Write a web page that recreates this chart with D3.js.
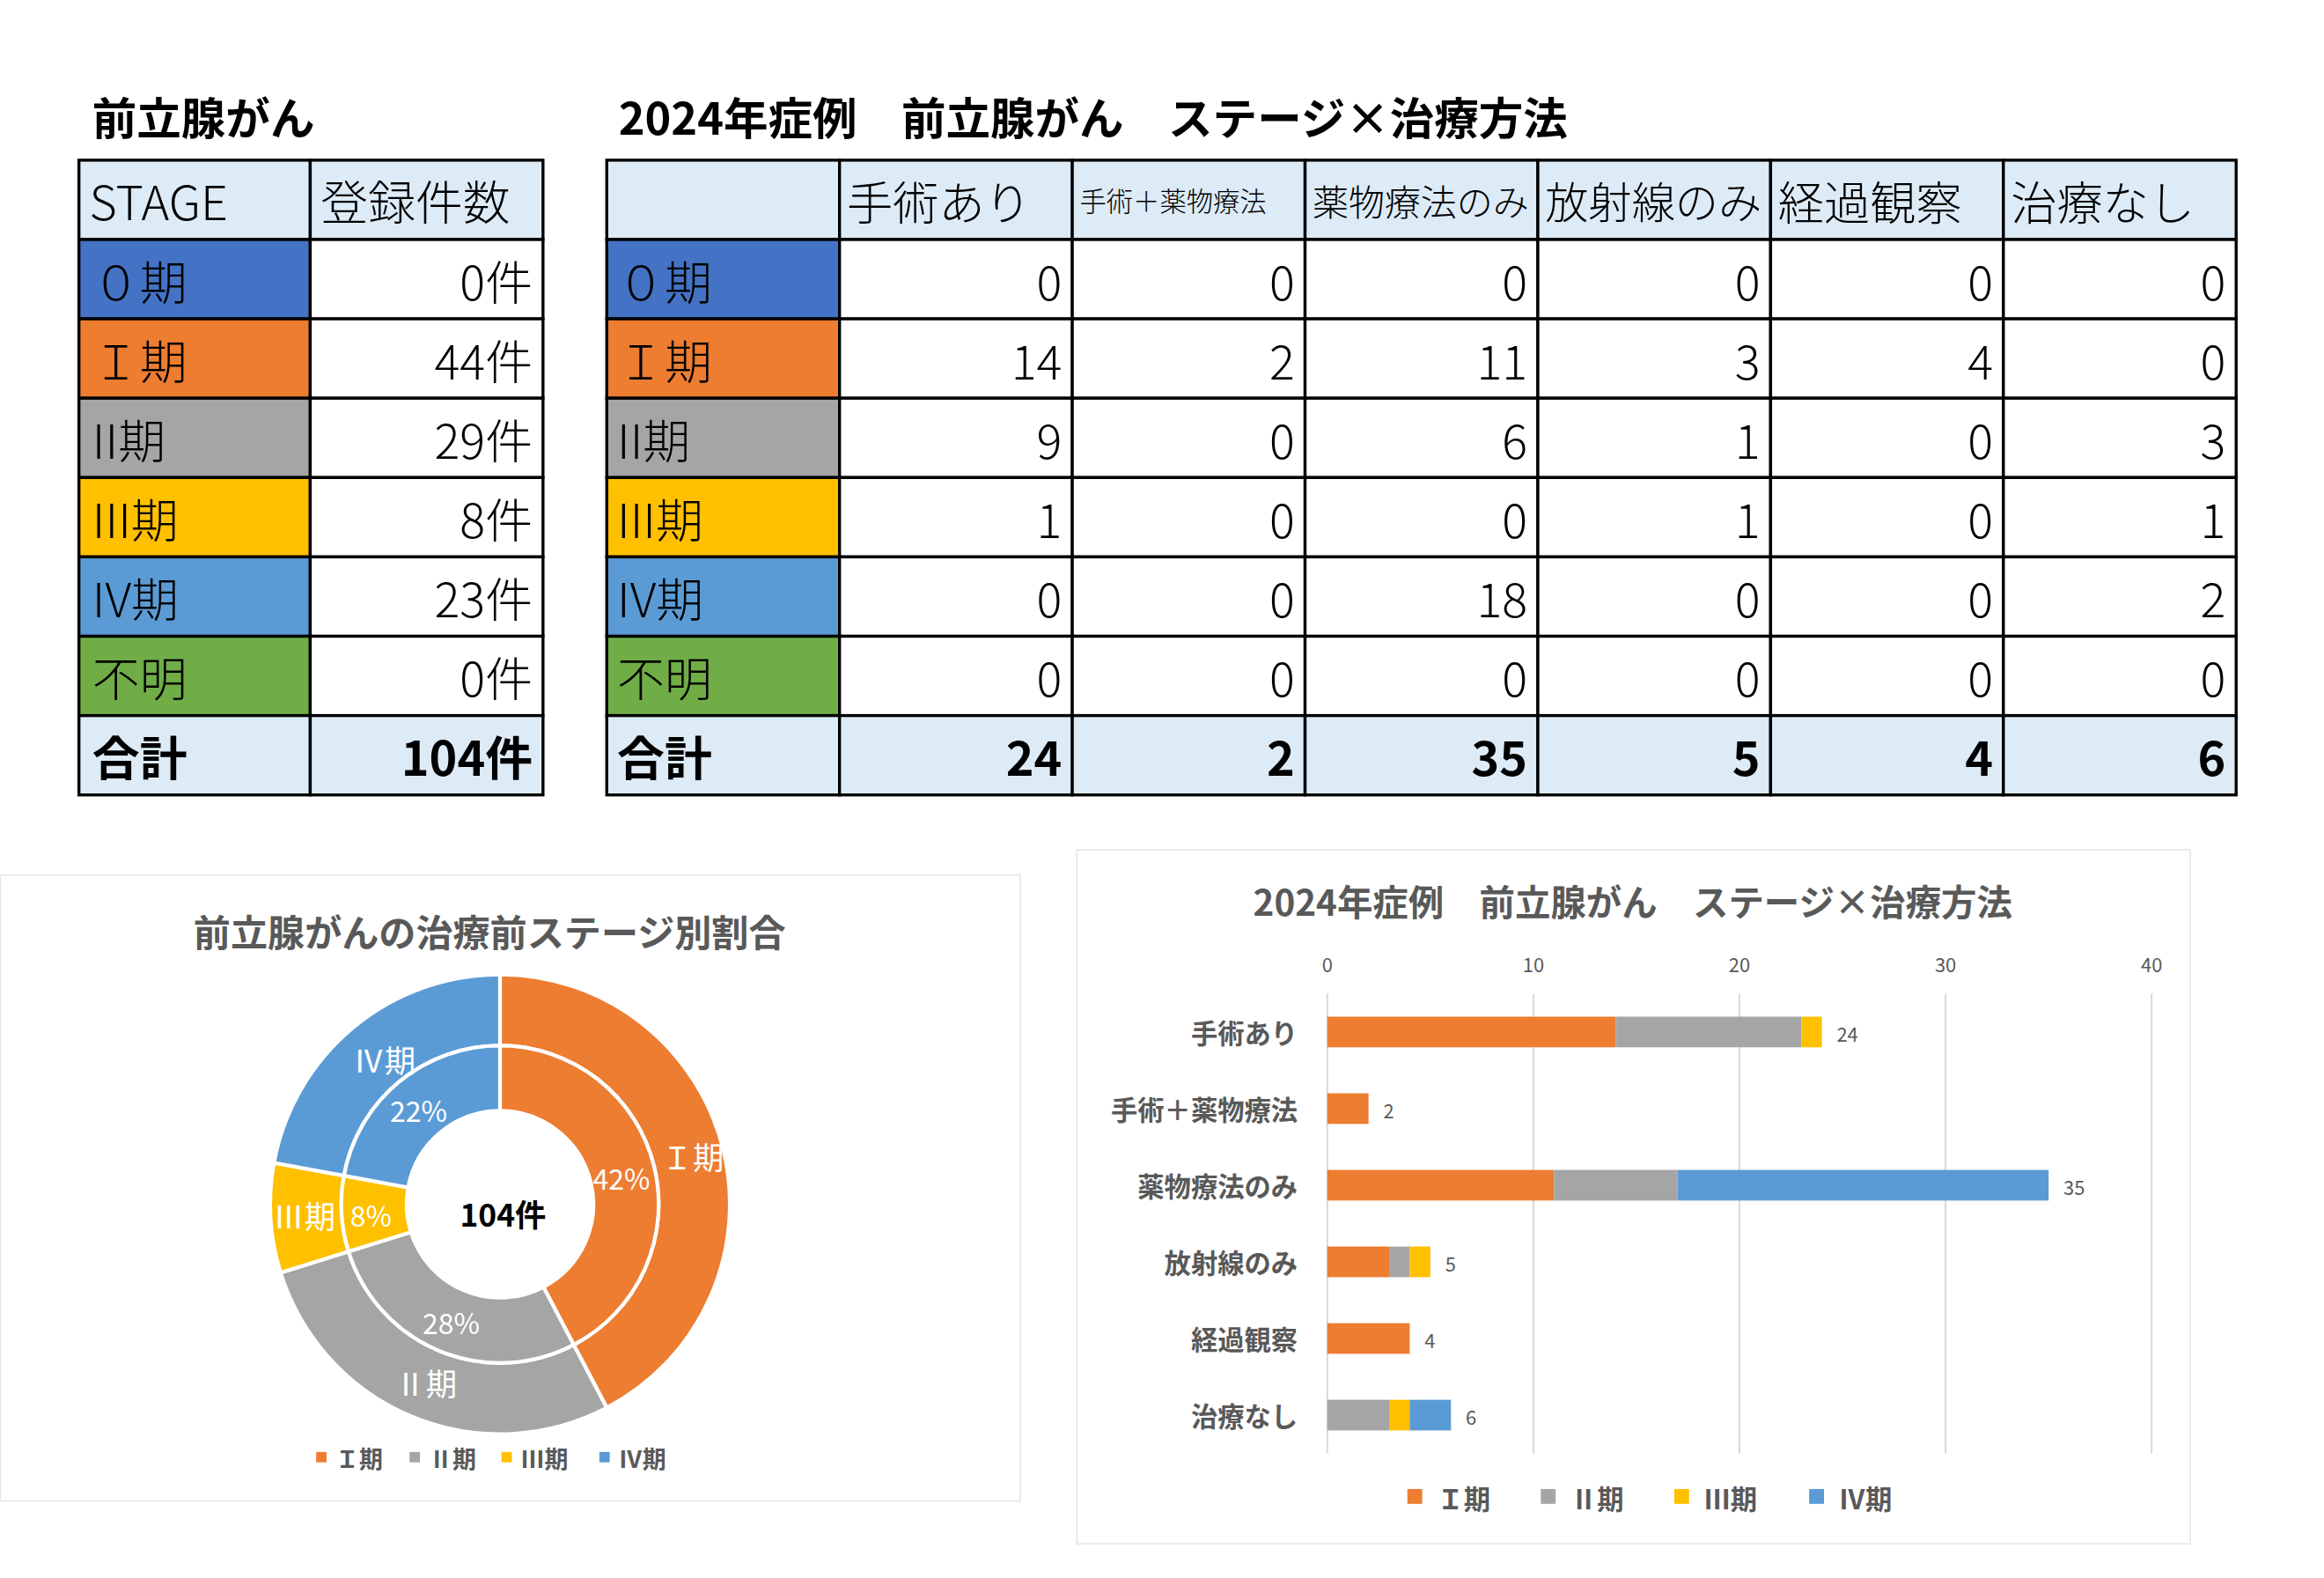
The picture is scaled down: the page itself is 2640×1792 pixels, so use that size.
<!DOCTYPE html>
<html><head><meta charset="utf-8">
<script src="https://cdn.jsdelivr.net/npm/d3@7"></script>
<style>body{margin:0;background:#fff}svg{display:block}text{font-family:"Noto Sans CJK JP","Noto Sans",sans-serif}</style>
</head><body><svg id="c" width="2640" height="1792" viewBox="0 0 1567 1064"></svg>
<script>
const stages=["０期","Ⅰ期","Ⅱ期","Ⅲ期","Ⅳ期","不明"];
const stageLabels=["０期","Ｉ期","II期","III期","IV期","不明"];
const stageColors=["#4472C4","#ED7D31","#A5A5A5","#FFC000","#5B9BD5","#70AD47"];
const counts=[0,44,29,8,23,0];
const treatments=["手術あり","手術＋薬物療法","薬物療法のみ","放射線のみ","経過観察","治療なし"];
// matrix[stage][treatment]
const matrix=[[0,0,0,0,0,0],[14,2,11,3,4,0],[9,0,6,1,0,3],[1,0,0,1,0,1],[0,0,18,0,0,2],[0,0,0,0,0,0]];
const totals=[24,2,35,5,4,6];
const chartStages=["Ⅰ期","Ⅱ期","Ⅲ期","Ⅳ期"];
const chartColors=["#ED7D31","#A5A5A5","#FFC000","#5B9BD5"];
const donutCounts=[44,29,8,23];
const donutOuterLabels=["Ｉ期","Ⅱ期","Ⅲ期","Ⅳ期"];
const xTicks=[0,10,20,30,40];

const svg=d3.select("#c");
const rowY=d3.range(9).map(i=>108+i*53.5);
const hdr="#DDEBF7";
svg.append("text").attr("x",62).attr("y",91).attr("font-size",30).attr("font-weight",700).text("前立腺がん");
svg.append("text").attr("x",417).attr("y",91).attr("font-size",30).attr("font-weight",700).text("2024年症例　前立腺がん　ステージ×治療方法");

function cell(x,y,w,h,fill){svg.append("rect").attr("x",x).attr("y",y).attr("width",w).attr("height",h).attr("fill",fill).attr("stroke","#000").attr("stroke-width",2);}
function txt(x,y,s,opt={}){return svg.append("text").attr("x",x).attr("y",y).attr("font-size",opt.fs||32).attr("font-weight",opt.bold?700:300).attr("text-anchor",opt.anchor||"start").attr("dominant-baseline","central").text(s);}
const lx=[53,209,366];
const rh=53.5;
cell(lx[0],rowY[0],lx[1]-lx[0],rh,hdr);cell(lx[1],rowY[0],lx[2]-lx[1],rh,hdr);
txt(60,rowY[0]+rh/2,"STAGE");txt(216,rowY[0]+rh/2,"登録件数");
stages.forEach((s,i)=>{const y=rowY[i+1];cell(lx[0],y,lx[1]-lx[0],rh,stageColors[i]);cell(lx[1],y,lx[2]-lx[1],rh,"#fff");
 txt(62,y+rh/2,stageLabels[i]);txt(359,y+rh/2,counts[i]+"件",{anchor:"end"});});
{const y=rowY[7];cell(lx[0],y,lx[1]-lx[0],rh,hdr);cell(lx[1],y,lx[2]-lx[1],rh,hdr);
 txt(62,y+rh/2,"合計",{bold:true});txt(359,y+rh/2,d3.sum(counts)+"件",{anchor:"end",bold:true});}
const cx=d3.range(8).map(i=>409+i*157);
cell(cx[0],rowY[0],157,rh,hdr);
treatments.forEach((t,j)=>{cell(cx[j+1],rowY[0],157,rh,hdr);txt(cx[j+1]+5,rowY[0]+rh/2,t,{fs:t.length>6?18:Math.min(31,146/t.length)});});
stages.forEach((s,i)=>{const y=rowY[i+1];cell(cx[0],y,157,rh,stageColors[i]);txt(416,y+rh/2,stageLabels[i]);
 treatments.forEach((t,j)=>{cell(cx[j+1],y,157,rh,"#fff");txt(cx[j+2]-7,y+rh/2,matrix[i][j],{anchor:"end"});});});
{const y=rowY[7];cell(cx[0],y,157,rh,hdr);txt(416,y+rh/2,"合計",{bold:true});
 totals.forEach((v,j)=>{cell(cx[j+1],y,157,rh,hdr);txt(cx[j+2]-7,y+rh/2,v,{anchor:"end",bold:true});});}

svg.append("rect").attr("x",0).attr("y",590).attr("width",688).attr("height",422).attr("fill","#fff").attr("stroke","#e6e6e6");
svg.append("text").attr("x",330).attr("y",627).attr("text-anchor","middle").attr("dominant-baseline","central").attr("font-size",25).attr("font-weight",700).attr("fill","#595959").text("前立腺がんの治療前ステージ別割合");
const dc=svg.append("g").attr("transform","translate(337,812)");
const pie=d3.pie().sort(null)(donutCounts);
const outer=d3.arc().innerRadius(107).outerRadius(155), inner=d3.arc().innerRadius(63).outerRadius(107);
dc.selectAll(".o").data(pie).join("path").attr("d",outer).attr("fill",(d,i)=>chartColors[i]).attr("stroke","#fff").attr("stroke-width",2.5);
dc.selectAll(".i").data(pie).join("path").attr("d",inner).attr("fill",(d,i)=>chartColors[i]).attr("stroke","#fff").attr("stroke-width",2.5);
const tot=d3.sum(donutCounts);
const oPos=[[130,-33],[-50,120],[-132,7],[-78,-98]], iPos=[[82,-18],[-33,79],[-87,7],[-55,-64]];
pie.forEach((d,i)=>{
 dc.append("text").attr("x",oPos[i][0]).attr("y",oPos[i][1]).attr("text-anchor","middle").attr("dominant-baseline","central").attr("font-size",21).attr("fill","#fff").attr("font-family","serif").text(donutOuterLabels[i]);
 dc.append("text").attr("x",iPos[i][0]).attr("y",iPos[i][1]).attr("text-anchor","middle").attr("dominant-baseline","central").attr("font-size",19).attr("fill","#fff").text(Math.round(donutCounts[i]/tot*100)+"%");
});
dc.append("text").attr("x",2).attr("y",6).attr("text-anchor","middle").attr("dominant-baseline","central").attr("font-size",21).attr("font-weight",700).text(tot+"件");
const lgx=[213,276,338,404];
chartStages.forEach((s,i)=>{svg.append("rect").attr("x",lgx[i]).attr("y",979).attr("width",7).attr("height",7).attr("fill",chartColors[i]);
 svg.append("text").attr("x",lgx[i]+13).attr("y",983).attr("dominant-baseline","central").attr("font-size",16).attr("font-weight",700).attr("fill","#595959").attr("font-family","serif").text(donutOuterLabels[i]);});

svg.append("rect").attr("x",726).attr("y",573).attr("width",751).attr("height",468).attr("fill","#fff").attr("stroke","#e6e6e6");
svg.append("text").attr("x",1101).attr("y",607).attr("text-anchor","middle").attr("dominant-baseline","central").attr("font-size",24).attr("font-weight",700).attr("fill","#595959").text("2024年症例　前立腺がん　ステージ×治療方法");
const x=d3.scaleLinear().domain([0,40]).range([895,1451]);
const y=d3.scaleBand().domain(treatments).range([670,980]).paddingInner(0.6).paddingOuter(0.3);
xTicks.forEach(t=>{svg.append("line").attr("x1",x(t)).attr("x2",x(t)).attr("y1",670).attr("y2",980).attr("stroke","#d9d9d9").attr("stroke-width",1.2);
 svg.append("text").attr("x",x(t)).attr("y",650).attr("text-anchor","middle").attr("dominant-baseline","central").attr("font-size",13).attr("fill","#595959").text(t);});
const sdata=treatments.map((t,j)=>{const o={t};chartStages.forEach((s,k)=>o[s]=matrix[k+1][j]);return o;});
const stack=d3.stack().keys(chartStages)(sdata);
stack.forEach((layer,k)=>{svg.selectAll(null).data(layer).join("rect").attr("x",d=>x(d[0])).attr("width",d=>x(d[1])-x(d[0])).attr("y",(d,j)=>y(treatments[j])).attr("height",y.bandwidth()).attr("fill",chartColors[k]);});
treatments.forEach((t,j)=>{
 svg.append("text").attr("x",875).attr("y",y(t)+y.bandwidth()/2).attr("text-anchor","end").attr("dominant-baseline","central").attr("font-size",18).attr("font-weight",700).attr("fill","#595959").text(t);
 svg.append("text").attr("x",x(totals[j])+10).attr("y",y(t)+y.bandwidth()/2+1).attr("dominant-baseline","central").attr("font-size",13).attr("fill","#595959").text(totals[j]);});
const blg=[949,1039,1129,1220];
chartStages.forEach((s,i)=>{svg.append("rect").attr("x",blg[i]).attr("y",1004).attr("width",10).attr("height",10).attr("fill",chartColors[i]);
 svg.append("text").attr("x",blg[i]+20).attr("y",1010).attr("dominant-baseline","central").attr("font-size",18).attr("font-weight",700).attr("fill","#595959").attr("font-family","serif").text(donutOuterLabels[i]);});
</script></body></html>
